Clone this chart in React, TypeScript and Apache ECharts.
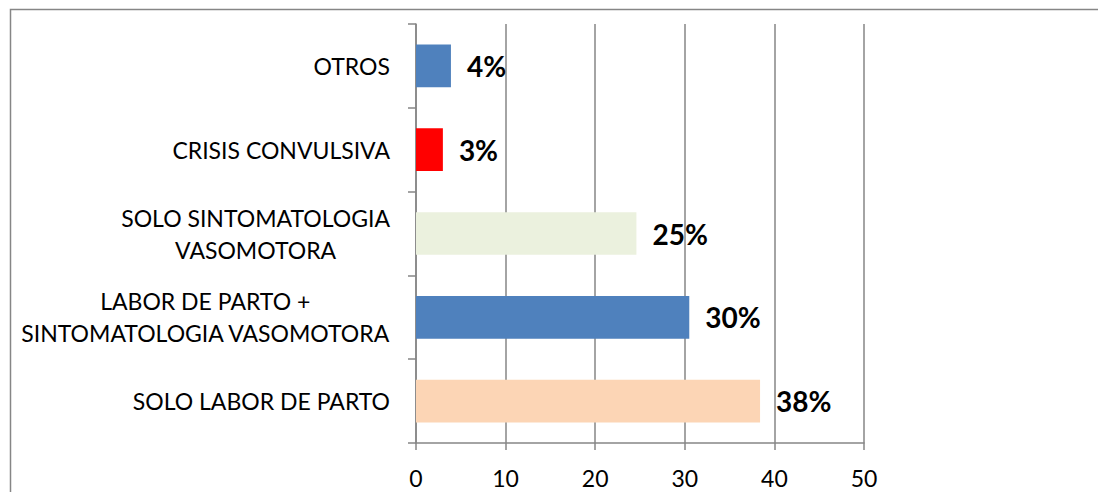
import React, { useEffect, useRef } from "react";
import * as echarts from "echarts";

// Categories listed bottom-to-top (ECharts category y axis starts at the bottom)
const categories: string[] = [
  "SOLO LABOR DE PARTO",
  "LABOR DE PARTO +\nSINTOMATOLOGIA VASOMOTORA",
  "SOLO SINTOMATOLOGIA\nVASOMOTORA",
  "CRISIS CONVULSIVA",
  "OTROS",
];
const values: number[] = [38.4, 30.5, 24.6, 3.0, 3.9];
const valueLabels: string[] = ["38%", "30%", "25%", "3%", "4%"];
const barColors: string[] = ["#FCD5B5", "#4F81BD", "#EBF1DE", "#FF0000", "#4F81BD"];
const axisMin = 0;
const axisMax = 50;
const axisInterval = 10;

const GRAY = "#868686";
const FONT = "Lato";

export default function App() {
  const ref = useRef<HTMLDivElement>(null);
  useEffect(() => {
    if (!ref.current) return;
    const chart = echarts.init(ref.current, null, { renderer: "svg" });
    chart.setOption({
      animation: false,
      backgroundColor: "#ffffff",
      graphic: [
        {
          type: "rect",
          shape: { x: 10.5, y: 9.5, width: 1200, height: 600 },
          style: { fill: "none", stroke: GRAY, lineWidth: 1.5 },
          silent: true,
        },
      ],
      grid: { left: 416, right: 234, top: 24, bottom: 49 },
      xAxis: {
        type: "value",
        min: axisMin,
        max: axisMax,
        interval: axisInterval,
        axisLine: { show: true, lineStyle: { color: GRAY, width: 1.5 } },
        axisTick: { show: true, length: 7, lineStyle: { color: GRAY, width: 1.5 } },
        splitLine: { show: true, lineStyle: { color: GRAY, width: 1.5 } },
        axisLabel: { fontFamily: FONT, fontSize: 23, color: "#000", margin: 23 },
      },
      yAxis: {
        type: "category",
        data: categories,
        axisLine: { show: true, lineStyle: { color: GRAY, width: 1.5 } },
        axisTick: { show: true, length: 8, lineStyle: { color: GRAY, width: 1.5 } },
        splitLine: { show: false },
        axisLabel: {
          margin: 26,
          formatter: (v: string) =>
            v.split("\n").map((l) => `{c|${l}}`).join("\n"),
          rich: {
            c: {
              align: "center",
              fontFamily: FONT,
              fontSize: 23,
              lineHeight: 32,
              color: "#000",
            },
          },
        },
      },
      series: [
        {
          type: "bar",
          barWidth: "51%",
          data: values.map((v, i) => ({
            value: v,
            itemStyle: { color: barColors[i] },
          })),
          label: {
            show: true,
            position: "right",
            distance: 16,
            fontFamily: FONT,
            fontWeight: "bold",
            fontSize: 28,
            color: "#000",
            formatter: (p: any) => valueLabels[p.dataIndex],
          },
        },
      ],
    });
    return () => chart.dispose();
  }, []);
  return (
    <div
      ref={ref}
      style={{
        position: "absolute",
        left: 0,
        top: 0,
        width: 1098,
        height: 492,
        background: "#fff",
      }}
    />
  );
}
